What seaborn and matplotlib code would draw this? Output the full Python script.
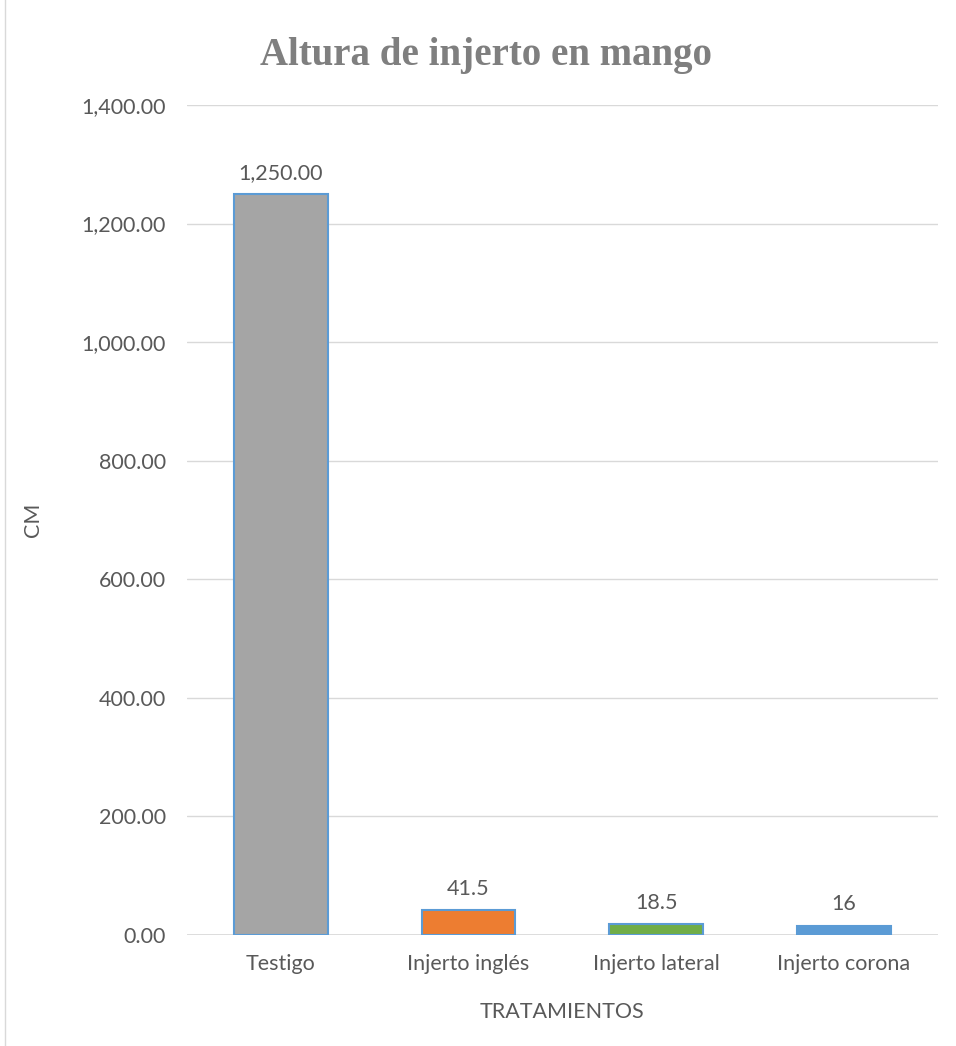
import matplotlib
matplotlib.use("Agg")
import matplotlib.pyplot as plt
import seaborn as sns
import pandas as pd
from matplotlib.ticker import FuncFormatter

# datos
tratamientos = ["Testigo", "Injerto inglés", "Injerto lateral", "Injerto corona"]
altura_cm = [1250.0, 41.5, 18.5, 16.0]
etiquetas = ["1,250.00", "41.5", "18.5", "16"]
colores = ["#A5A5A5", "#ED7D31", "#70AD47", "#5B9BD5"]

sns.set_style("white")
plt.rcParams['font.family'] = ['Lato', 'DejaVu Sans']

texto = "#595959"

df = pd.DataFrame({"tratamiento": tratamientos, "cm": altura_cm})

fig = plt.figure(figsize=(9.56, 10.46), dpi=100)
ax = fig.add_axes([0.1956, 0.1061, 0.7854, 0.7935])

sns.barplot(data=df, x="tratamiento", y="cm", hue="tratamiento",
            palette=colores, saturation=1, legend=False, width=0.5,
            edgecolor="#5B9BD5", linewidth=1.5, ax=ax)

for i, p in enumerate(ax.patches):
    ax.annotate(etiquetas[i], (p.get_x() + p.get_width() / 2, p.get_height()),
                xytext=(0, 8), textcoords="offset points",
                ha="center", va="bottom", fontsize=15.5, color=texto)

ax.set_ylim(0, 1400)
ax.set_yticks(range(0, 1401, 200))
ax.yaxis.set_major_formatter(FuncFormatter(lambda v, pos: '{:,.2f}'.format(v)))
ax.grid(axis="y", color="#D9D9D9", linewidth=1)
ax.set_axisbelow(True)
for s in ax.spines.values():
    s.set_visible(False)
ax.axhline(0, color="#D9D9D9", linewidth=1.2, zorder=0)
ax.tick_params(axis="y", length=0, labelsize=15.5, colors=texto, pad=15)
ax.tick_params(axis="x", length=0, labelsize=15.5, colors=texto, pad=14)

ax.set_xlabel("TRATAMIENTOS", fontsize=15.5, color=texto, labelpad=20)
ax.set_ylabel("CM", fontsize=15.5, color=texto, labelpad=28)

fig.text(0.508, 0.947, "Altura de injerto en mango", ha="center", va="center",
         fontsize=28, fontweight="bold", color="#7F7F7F",
         family=["Liberation Serif", "DejaVu Serif"])

# marco exterior del grafico
fig.patches.append(plt.Rectangle((0.005, -0.01), 1.2, 1.2, transform=fig.transFigure,
                                 fill=False, edgecolor="#D9D9D9", linewidth=1))

fig.savefig("out.png", dpi=100)
